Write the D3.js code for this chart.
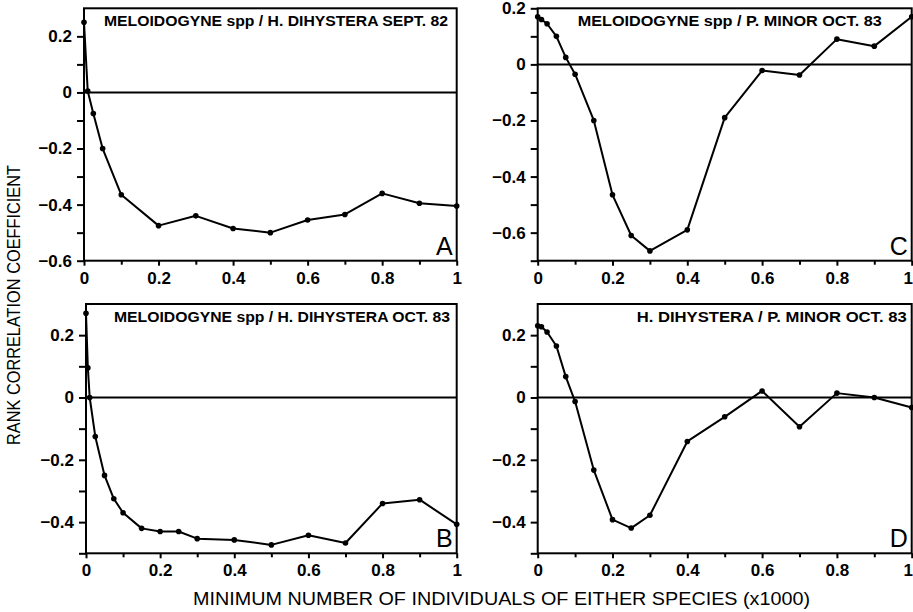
<!DOCTYPE html>
<html>
<head>
<meta charset="utf-8">
<script src="https://cdn.jsdelivr.net/npm/d3@7"></script>
<style>
  body { margin: 0; background: #fff; }
  svg { display: block; }
  .tick text { font-family: "Liberation Sans", Arial, sans-serif; font-weight: bold; font-size: 17px; fill: #000; }
  .domain { display: none; }
  .tick line { stroke: #000; stroke-width: 2; }
</style>
</head>
<body>
<svg id="chart" width="913" height="612"></svg>
<script>
// values, x in thousands of individuals
var xA = [0, 0.01, 0.025, 0.05, 0.1, 0.2, 0.3, 0.4, 0.5, 0.6, 0.7, 0.8, 0.9, 1]
var yA = [0.25, 0.005, -0.075, -0.2, -0.365, -0.475, -0.44, -0.485, -0.5, -0.455, -0.435, -0.36, -0.395, -0.405]

var xB = [0, 0.005, 0.01, 0.025, 0.05, 0.075, 0.1, 0.15, 0.2, 0.25, 0.3, 0.4, 0.5, 0.6, 0.7, 0.8, 0.9, 1]
var yB = [0.27, 0.095, 0, -0.125, -0.25, -0.325, -0.37, -0.42, -0.43, -0.43, -0.453, -0.457, -0.473, -0.442, -0.467, -0.34, -0.328, -0.407]

var xC = [0, 0.01, 0.025, 0.05, 0.075, 0.1, 0.15, 0.2, 0.25, 0.3, 0.4, 0.5, 0.6, 0.7, 0.8, 0.9, 1]
var yC = [0.17, 0.16, 0.145, 0.1, 0.025, -0.035, -0.2, -0.465, -0.61, -0.665, -0.59, -0.19, -0.022, -0.038, 0.09, 0.065, 0.17]

var xD = [0, 0.01, 0.025, 0.05, 0.075, 0.1, 0.15, 0.2, 0.25, 0.3, 0.4, 0.5, 0.6, 0.7, 0.8, 0.9, 1]
var yD = [0.23, 0.227, 0.21, 0.165, 0.067, -0.013, -0.233, -0.392, -0.419, -0.378, -0.141, -0.062, 0.021, -0.094, 0.014, 0, -0.032]

var titles = ['MELOIDOGYNE spp / H. DIHYSTERA SEPT. 82', 'MELOIDOGYNE spp / H. DIHYSTERA OCT. 83',
              'MELOIDOGYNE spp / P. MINOR OCT. 83', 'H. DIHYSTERA / P. MINOR OCT. 83']
var letters = ['A', 'B', 'C', 'D']
var xMajor = [0, 0.2, 0.4, 0.6, 0.8, 1]
var xMinor = [0.1, 0.3, 0.5, 0.7, 0.9]

var svg = d3.select('#chart')

// panel boxes (pixels) and y ranges
var panels = [
  {x: xA, y: yA, title: titles[0], letter: letters[0], left: 84, right: 456.7, top: 8.3, bottom: 260.7, ydom: [-0.6, 0.3], tx: 104, tw: 344},
  {x: xB, y: yB, title: titles[1], letter: letters[1], left: 86, right: 456.7, top: 304, bottom: 553.3, ydom: [-0.5, 0.3], tx: 114, tw: 336},
  {x: xC, y: yC, title: titles[2], letter: letters[2], left: 537.7, right: 911.7, top: 8.3, bottom: 260.7, ydom: [-0.7, 0.2], tx: 577.7, tw: 304},
  {x: xD, y: yD, title: titles[3], letter: letters[3], left: 537.7, right: 911.7, top: 304, bottom: 553.3, ydom: [-0.5, 0.3], tx: 636.7, tw: 270}
]

var fmt = function(d){ return d === 0 ? '0' : d === 1 ? '1' : d3.format('.1f')(d).replace('-', '\u2212') }

panels.forEach(function(p){
  var x = d3.scaleLinear().domain([0, 1]).range([p.left, p.right])
  var y = d3.scaleLinear().domain(p.ydom).range([p.bottom, p.top])
  var g = svg.append('g')

  var yMajor = d3.range(Math.ceil(p.ydom[0] * 5), Math.floor(p.ydom[1] * 5 + 1e-9) + 1).map(function(k){ return k / 5 })
  var yMinor = d3.range(Math.round(p.ydom[0] * 10), Math.round(p.ydom[1] * 10)).map(function(k){ return k / 10 })
    .filter(function(v){ return Math.abs(Math.round(v * 10)) % 2 === 1 })

  g.append('g').attr('transform', 'translate(' + p.left + ',0)')
    .call(d3.axisLeft(y).tickValues(yMajor).tickFormat(fmt).tickSize(7).tickPadding(5))
  g.append('g').attr('transform', 'translate(' + p.left + ',0)')
    .call(d3.axisLeft(y).tickValues(yMinor).tickFormat('').tickSize(7))

  var xAxisG = g.append('g').attr('transform', 'translate(0,' + p.bottom + ')')
    .call(d3.axisBottom(x).tickValues(xMajor).tickFormat(fmt).tickSize(5).tickPadding(6))
  // keep the last label inside the page on the right-hand panels
  if (p.right > 900) xAxisG.selectAll('.tick text').filter(function(d){ return d === 1 }).attr('dx', -4)
  g.append('g').attr('transform', 'translate(0,' + p.bottom + ')')
    .call(d3.axisBottom(x).tickValues(xMinor).tickFormat('').tickSize(4))

  g.append('rect')
    .attr('x', p.left).attr('y', p.top)
    .attr('width', p.right - p.left).attr('height', p.bottom - p.top)
    .attr('fill', 'none').attr('stroke', '#000').attr('stroke-width', 2)

  g.append('line')
    .attr('x1', p.left).attr('x2', p.right).attr('y1', y(0)).attr('y2', y(0))
    .attr('stroke', '#000').attr('stroke-width', 2)

  var pts = p.x.map(function(v, i){ return [v, p.y[i]] })
  var line = d3.line().x(function(d){ return x(d[0]) }).y(function(d){ return y(d[1]) })
  g.append('path').attr('d', line(pts))
    .attr('fill', 'none').attr('stroke', '#000').attr('stroke-width', 2).attr('stroke-linejoin', 'round')

  g.selectAll('circle').data(pts).enter().append('circle')
    .attr('cx', function(d){ return x(d[0]) }).attr('cy', function(d){ return y(d[1]) })
    .attr('r', 2.8).attr('fill', '#000')

  g.append('text')
    .attr('x', p.tx).attr('y', p.top + 17.5)
    .attr('textLength', p.tw).attr('lengthAdjust', 'spacingAndGlyphs')
    .style('font-family', '"Liberation Sans", Arial, sans-serif').style('font-weight', 'bold').style('font-size', '14px')
    .text(p.title)

  g.append('text')
    .attr('x', p.right - 4).attr('y', p.bottom - 6)
    .attr('text-anchor', 'end')
    .style('font-family', '"Liberation Sans", Arial, sans-serif').style('font-size', '25px')
    .text(p.letter)
})

svg.append('text')
  .attr('x', 193).attr('y', 605)
  .attr('textLength', 617).attr('lengthAdjust', 'spacingAndGlyphs')
  .style('font-family', '"Liberation Sans", Arial, sans-serif').style('font-size', '18px')
  .text('MINIMUM NUMBER OF INDIVIDUALS OF EITHER SPECIES (x1000)')

svg.append('text')
  .attr('transform', 'translate(20,445) rotate(-90)')
  .attr('textLength', 280).attr('lengthAdjust', 'spacingAndGlyphs')
  .style('font-family', '"Liberation Sans", Arial, sans-serif').style('font-size', '18px')
  .text('RANK CORRELATION COEFFICIENT')
</script>
</body>
</html>
